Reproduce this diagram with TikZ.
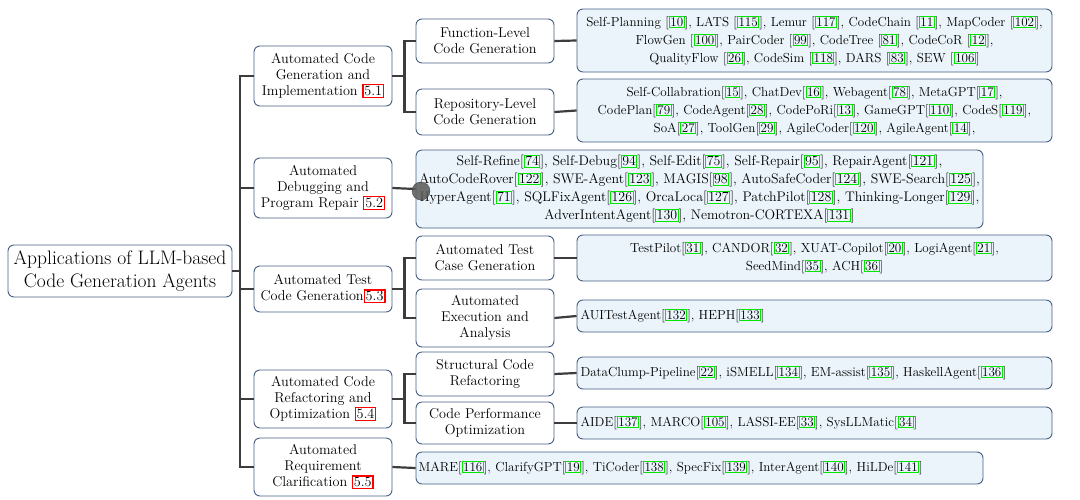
\documentclass[tikz,border=0pt]{standalone}
\usetikzlibrary{positioning}
\definecolor{leafbg}{RGB}{234,244,250}
\definecolor{boxline}{RGB}{70,95,130}
\definecolor{trunk}{RGB}{60,60,60}
\definecolor{citegreen}{RGB}{0,230,0}
\newcommand{\rf}[1]{[{\color{citegreen}\fboxsep0.5pt\fboxrule1pt\fbox{\color{black}#1}}]}
\newcommand{\secref}[1]{{\color{red}\fboxsep0.8pt\fboxrule1.2pt\fbox{\color{black}#1}}}
\tikzset{
  cat/.style={draw=boxline, line width=0.9pt, rounded corners=6pt, fill=white, align=center,
    font=\fontsize{14.2}{16}\selectfont, inner sep=1pt},
  leaf/.style={draw=boxline, line width=0.9pt, rounded corners=6pt, fill=leafbg, align=center,
    font=\fontsize{13.1}{18}\selectfont, inner sep=1pt},
  link/.style={draw=trunk, line width=2.2pt},
}
\begin{document}
\begin{tikzpicture}[x=1pt,y=-1pt]
\useasboundingbox (0,0) rectangle (1080,499);
% root
\node[cat, minimum width=224pt, minimum height=52pt, font=\fontsize{19.5}{23}\selectfont] (root) at (120,271) {Applications of LLM-based\\Code Generation Agents};
% first level
\node[cat, minimum width=138pt, minimum height=60pt] (impl) at (323,76) {Automated Code\\Generation and\\Implementation \secref{5.1}};
\node[cat, minimum width=138pt, minimum height=60pt] (debug) at (323,188) {Automated\\Debugging and\\Program Repair \secref{5.2}};
\node[cat, minimum width=138pt, minimum height=46pt] (test) at (323,289) {Automated Test\\Code Generation\secref{5.3}};
\node[cat, minimum width=138pt, minimum height=58pt] (refac) at (323,399) {Automated Code\\Refactoring and\\Optimization \secref{5.4}};
\node[cat, minimum width=138pt, minimum height=58pt] (req) at (323,467) {Automated\\Requirement\\Clarification \secref{5.5}};
% second level
\node[cat, minimum width=138pt, minimum height=44pt] (func) at (485,41) {Function-Level\\Code Generation};
\node[cat, minimum width=138pt, minimum height=46pt] (repo) at (485,112) {Repository-Level\\Code Generation};
\node[cat, minimum width=138pt, minimum height=44pt] (tcase) at (485,258) {Automated Test\\Case Generation};
\node[cat, minimum width=138pt, minimum height=58pt] (exec) at (485,318) {Automated\\Execution and\\Analysis};
\node[cat, minimum width=138pt, minimum height=44pt] (struct) at (485,374) {Structural Code\\Refactoring};
\node[cat, minimum width=138pt, minimum height=42pt] (perf) at (485,423) {Code Performance\\Optimization};
% leaves
\node[leaf, minimum width=475pt, minimum height=63pt, text width=470pt] (funcL) at (814.5,40.5) {Self-Planning \rf{10}, LATS \rf{115}, Lemur \rf{117}, CodeChain \rf{11}, MapCoder \rf{102},\\FlowGen \rf{100}, PairCoder \rf{99}, CodeTree \rf{81}, CodeCoR \rf{12},\\QualityFlow \rf{26}, CodeSim \rf{118}, DARS \rf{83}, SEW \rf{106}};
\node[leaf, minimum width=475pt, minimum height=63pt, text width=470pt] (repoL) at (814.5,110.5) {Self-Collabration\rf{15}, ChatDev\rf{16}, Webagent\rf{78}, MetaGPT\rf{17},\\CodePlan\rf{79}, CodeAgent\rf{28}, CodePoRi\rf{13}, GameGPT\rf{110}, CodeS\rf{119},\\SoA\rf{27}, ToolGen\rf{29}, AgileCoder\rf{120}, AgileAgent\rf{14},};
\node[leaf, minimum width=567pt, minimum height=78pt, text width=564pt, font=\fontsize{13.9}{18}\selectfont] (debugL) at (699.5,189) {Self-Refine\rf{74}, Self-Debug\rf{94}, Self-Edit\rf{75}, Self-Repair\rf{95}, RepairAgent\rf{121},\\AutoCodeRover\rf{122}, SWE-Agent\rf{123}, MAGIS\rf{98}, AutoSafeCoder\rf{124}, SWE-Search\rf{125},\\HyperAgent\rf{71}, SQLFixAgent\rf{126}, OrcaLoca\rf{127}, PatchPilot\rf{128}, Thinking-Longer\rf{129},\\AdverIntentAgent\rf{130}, Nemotron-CORTEXA\rf{131}};
\node[leaf, minimum width=475pt, minimum height=46pt, text width=470pt] (tcaseL) at (814.5,258) {TestPilot\rf{31}, CANDOR\rf{32}, XUAT-Copilot\rf{20}, LogiAgent\rf{21},\\SeedMind\rf{35}, ACH\rf{36}};
\node[leaf, minimum width=475pt, minimum height=32pt, text width=468pt, align=left] (execL) at (814.5,316) {AUITestAgent\rf{132}, HEPH\rf{133}};
\node[leaf, minimum width=475pt, minimum height=32pt, text width=468pt, align=left] (structL) at (814.5,373) {DataClump-Pipeline\rf{22}, iSMELL\rf{134}, EM-assist\rf{135}, HaskellAgent\rf{136}};
\node[leaf, minimum width=475pt, minimum height=32pt, text width=468pt, align=left] (perfL) at (814.5,423) {AIDE\rf{137}, MARCO\rf{105}, LASSI-EE\rf{33}, SysLLMatic\rf{34}};
\node[leaf, minimum width=567pt, minimum height=32pt, text width=562pt, align=left] (reqL) at (699.5,468) {MARE\rf{116}, ClarifyGPT\rf{19}, TiCoder\rf{138}, SpecFix\rf{139}, InterAgent\rf{140}, HiLDe\rf{141}};
% connectors
\coordinate (tr) at (240,271);
\path[link] (root.east) -- (tr);
\foreach \c in {impl,debug,test,refac,req}
  \path[link] (tr) |- (\c.west);
\foreach \p/\a/\b in {impl/func/repo, test/tcase/exec, refac/struct/perf} {
  \path[link] (\p.east) -- ++(12,0) coordinate (m);
  \path[link] (m) |- (\a.west);
  \path[link] (m) |- (\b.west);
}
\foreach \a/\b in {func/funcL, repo/repoL, tcase/tcaseL, exec/execL, struct/structL, perf/perfL, debug/debugL, req/reqL}
  \path[link] (\a.east) -- (\b.west);
\node[circle, fill=trunk!85, draw=trunk, minimum size=18pt, inner sep=0pt, opacity=0.85] (dot) at (421,191) {};
\end{tikzpicture}
\end{document}
